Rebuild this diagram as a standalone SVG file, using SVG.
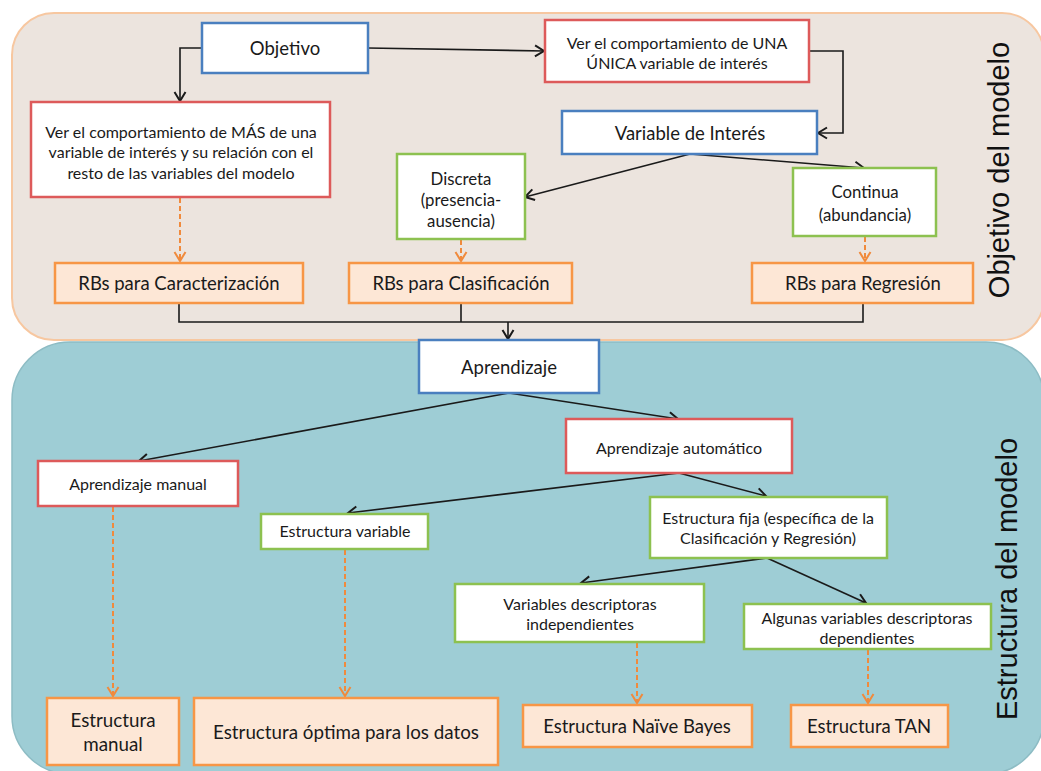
<svg xmlns="http://www.w3.org/2000/svg" width="1041" height="771" viewBox="0 0 1041 771">
<defs>
<style>
.blue{fill:#ffffff;stroke:#4a7fbf;stroke-width:2.5}
.red{fill:#ffffff;stroke:#dd5a5a;stroke-width:2.5}
.green{fill:#ffffff;stroke:#8dc150;stroke-width:2.5}
.orange{fill:#fde7d6;stroke:#f79646;stroke-width:2.5}
text{font-family:Lato,"Open Sans","Liberation Sans",sans-serif;fill:#1a1a1a;text-anchor:middle}
.t17{font-size:18.5px}
.t14{font-size:16px}
.t15{font-size:16px}
.t16{font-size:16.8px}
.t18{font-size:18.8px}
.side{font-family:"Liberation Sans",Arial,sans-serif;font-size:29px;fill:#111}
.conn{fill:none;stroke:#1a1a1a;stroke-width:1.6}
.dash{fill:none;stroke:#f08a3c;stroke-width:2;stroke-dasharray:5,3}
</style>
<marker id="ab" markerWidth="14" markerHeight="14" refX="11" refY="7" orient="auto" markerUnits="userSpaceOnUse">
<path d="M2,1.5 L11,7 L2,12.5" fill="none" stroke="#1a1a1a" stroke-width="2"/>
</marker>
<marker id="ao" markerWidth="14" markerHeight="14" refX="11" refY="7" orient="auto" markerUnits="userSpaceOnUse">
<path d="M2,1.5 L11,7 L2,12.5" fill="none" stroke="#f08a3c" stroke-width="2"/>
</marker>
</defs>
<g id="panels">
<rect id="panel-objetivo" x="12" y="13" width="1032" height="327" rx="42" fill="#ece4de" stroke="#f7c7a0" stroke-width="2"/>
<rect id="panel-estructura" x="12" y="342" width="1032" height="432" rx="58" fill="#9ecdd5" stroke="#8dbcc4" stroke-width="1.5"/>
<text class="side" transform="translate(1009,170) rotate(-90)">Objetivo del modelo</text>
<text class="side" transform="translate(1017,579) rotate(-90)">Estructura del modelo</text>
</g>
<g id="connectors">
<path class="conn" d="M202,48 H180 V101" marker-end="url(#ab)"/>
<path class="conn" d="M368,48 L544,51" marker-end="url(#ab)"/>
<path class="conn" d="M809,51 H843 V133 H818" marker-end="url(#ab)"/>
<path class="conn" d="M690,154 L525,197" marker-end="url(#ab)"/>
<path class="conn" d="M690,154 L864,168" marker-end="url(#ab)"/>
<path class="conn" d="M179,303 V322 H863 V303 M461,303 V322"/>
<path class="conn" d="M508,322 V339" marker-end="url(#ab)"/>
<path class="conn" d="M509,393 L139,461" marker-end="url(#ab)"/>
<path class="conn" d="M509,393 L678,419" marker-end="url(#ab)"/>
<path class="conn" d="M679,473 L348,513" marker-end="url(#ab)"/>
<path class="conn" d="M679,473 L766,496" marker-end="url(#ab)"/>
<path class="conn" d="M767,558 L581,583" marker-end="url(#ab)"/>
<path class="conn" d="M767,558 L866,603" marker-end="url(#ab)"/>
<path class="dash" d="M180,198 V261" marker-end="url(#ao)"/>
<path class="dash" d="M461,240 V261" marker-end="url(#ao)"/>
<path class="dash" d="M865,237 V261" marker-end="url(#ao)"/>
<path class="dash" d="M113,507 V696" marker-end="url(#ao)"/>
<path class="dash" d="M345,550 V696" marker-end="url(#ao)"/>
<path class="dash" d="M637,643 V703" marker-end="url(#ao)"/>
<path class="dash" d="M868,650 V703" marker-end="url(#ao)"/>
</g>
<g id="n-objetivo"><rect class="blue" x="202" y="23" width="166" height="50"/><text class="t17" x="285" y="55">Objetivo</text></g>
<g id="n-mas"><rect class="red" x="31" y="102" width="299" height="95"/>
<text class="t15" x="181" y="138">Ver el comportamiento de MÁS de una</text>
<text class="t15" x="181" y="158">variable de interés y su relación con el</text>
<text class="t15" x="181" y="179">resto de las variables del modelo</text></g>
<g id="n-una"><rect class="red" x="545" y="20" width="264" height="62"/>
<text class="t14" x="677" y="49">Ver el comportamiento de UNA</text>
<text class="t14" x="677" y="69">ÚNICA variable de interés</text></g>
<g id="n-variable"><rect class="blue" x="562" y="111" width="255" height="43"/><text class="t17" x="690" y="140">Variable de Interés</text></g>
<g id="n-discreta"><rect class="green" x="397" y="154" width="128" height="85"/>
<text class="t16" x="461" y="185">Discreta</text>
<text class="t16" x="461" y="206">(presencia-</text>
<text class="t16" x="461" y="227">ausencia)</text></g>
<g id="n-continua"><rect class="green" x="793" y="168" width="143" height="68"/>
<text class="t16" x="865" y="198">Continua</text>
<text class="t16" x="865" y="221">(abundancia)</text></g>
<g id="n-rbcar"><rect class="orange" x="55" y="263" width="248" height="40"/><text class="t17" x="179" y="290">RBs para Caracterización</text></g>
<g id="n-rbcla"><rect class="orange" x="349" y="263" width="223" height="40"/><text class="t17" x="461" y="290">RBs para Clasificación</text></g>
<g id="n-rbreg"><rect class="orange" x="752" y="263" width="221" height="40"/><text class="t17" x="863" y="290">RBs para Regresión</text></g>
<g id="n-aprendizaje"><rect class="blue" x="419" y="340" width="180" height="53"/><text class="t17" x="509" y="374">Aprendizaje</text></g>
<g id="n-manual"><rect class="red" x="38" y="461" width="200" height="45"/><text class="t14" x="138" y="490">Aprendizaje manual</text></g>
<g id="n-automatico"><rect class="red" x="566" y="419" width="226" height="54"/><text class="t14" x="679" y="454">Aprendizaje automático</text></g>
<g id="n-estvar"><rect class="green" x="261" y="514" width="167" height="35"/><text class="t14" x="345" y="537">Estructura variable</text></g>
<g id="n-estfija"><rect class="green" x="650" y="497" width="237" height="61"/>
<text class="t14" x="768" y="524">Estructura fija (específica de la</text>
<text class="t14" x="768" y="544">Clasificación y Regresión)</text></g>
<g id="n-indep"><rect class="green" x="455" y="584" width="249" height="58"/>
<text class="t14" x="580" y="610">Variables descriptoras</text>
<text class="t14" x="580" y="630">independientes</text></g>
<g id="n-algunas"><rect class="green" x="744" y="604" width="247" height="45"/>
<text class="t14" x="867" y="624">Algunas variables descriptoras</text>
<text class="t14" x="867" y="644">dependientes</text></g>
<g id="n-estmanual"><rect class="orange" x="47" y="698" width="132" height="67"/>
<text class="t18" x="113" y="727">Estructura</text>
<text class="t18" x="113" y="751">manual</text></g>
<g id="n-estoptima"><rect class="orange" x="194" y="698" width="304" height="67"/><text class="t18" x="346" y="739">Estructura óptima para los datos</text></g>
<g id="n-naive"><rect class="orange" x="523" y="705" width="229" height="42"/><text class="t17" x="637" y="733">Estructura Naïve Bayes</text></g>
<g id="n-tan"><rect class="orange" x="791" y="705" width="157" height="42"/><text class="t17" x="869" y="733">Estructura TAN</text></g>
</svg>
